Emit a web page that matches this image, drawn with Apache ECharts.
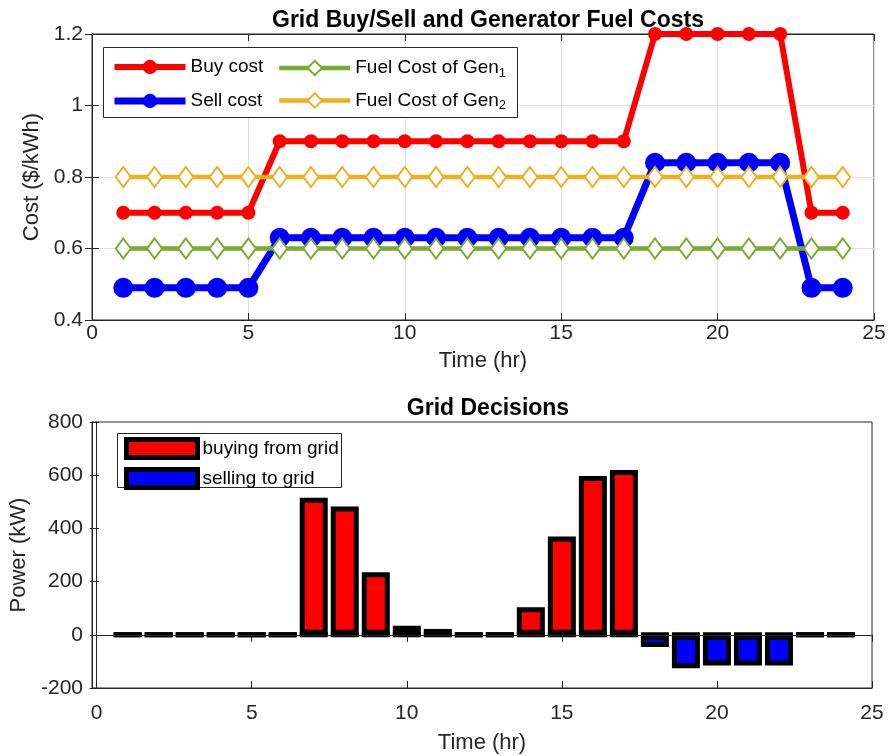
<!DOCTYPE html>
<html>
<head>
<meta charset="utf-8">
<script src="https://cdn.jsdelivr.net/npm/echarts@6/dist/echarts.min.js"></script>
<style>
  html, body { margin: 0; padding: 0; background: #ffffff; }
  #chart { width: 890px; height: 756px; }
</style>
</head>
<body>
<div id="chart"></div>
<script>
// Hourly time axis
const hours = [1, 2, 3, 4, 5, 6, 7, 8, 9, 10, 11, 12, 13, 14, 15, 16, 17, 18, 19, 20, 21, 22, 23, 24];

// Grid tariffs ($/kWh)
const buyCost  = [0.7, 0.7, 0.7, 0.7, 0.7, 0.9, 0.9, 0.9, 0.9, 0.9, 0.9, 0.9, 0.9, 0.9, 0.9, 0.9, 0.9, 1.2, 1.2, 1.2, 1.2, 1.2, 0.7, 0.7];
const sellCost = [0.49, 0.49, 0.49, 0.49, 0.49, 0.63, 0.63, 0.63, 0.63, 0.63, 0.63, 0.63, 0.63, 0.63, 0.63, 0.63, 0.63, 0.84, 0.84, 0.84, 0.84, 0.84, 0.49, 0.49];

// Generator fuel costs ($/kWh)
const fuelGen1 = [0.6, 0.6, 0.6, 0.6, 0.6, 0.6, 0.6, 0.6, 0.6, 0.6, 0.6, 0.6, 0.6, 0.6, 0.6, 0.6, 0.6, 0.6, 0.6, 0.6, 0.6, 0.6, 0.6, 0.6];
const fuelGen2 = [0.8, 0.8, 0.8, 0.8, 0.8, 0.8, 0.8, 0.8, 0.8, 0.8, 0.8, 0.8, 0.8, 0.8, 0.8, 0.8, 0.8, 0.8, 0.8, 0.8, 0.8, 0.8, 0.8, 0.8];

// Grid exchange (kW): positive = bought, negative = sold
const buyingFromGrid = [0, 0, 0, 0, 0, 0, 515, 482, 235, 34, 22, 0, 0, 104, 370, 597, 620, 0, 0, 0, 0, 0, 0, 0];
const sellingToGrid  = [0, 0, 0, 0, 0, 0, 0, 0, 0, 0, 0, 0, 0, 0, 0, 0, 0, -46, -126, -115, -115, -115, 0, 0];

// Tick labels
const timeTicks = [0, 5, 10, 15, 20, 25];

const FONT = "'Liberation Sans', Arial, Helvetica, sans-serif";
const AXIS_COLOR = '#262626';

const pairs = (vals) => hours.map((h, i) => [h, vals[i]]);

const chart = echarts.init(document.getElementById('chart'), null, { renderer: 'canvas' });

const tickLabel = { color: AXIS_COLOR, fontFamily: FONT, fontSize: 21 };
const axisName = { color: AXIS_COLOR, fontFamily: FONT, fontSize: 22 };

function mirrorAxis(base) {
  return Object.assign({
    axisLine: { show: true, lineStyle: { color: AXIS_COLOR, width: 1 } },
    axisTick: { show: true, inside: true, length: 7, lineStyle: { color: AXIS_COLOR } },
    axisLabel: { show: false },
    splitLine: { show: false }
  }, base);
}

const subRich = {
  sub: { fontSize: 13, fontFamily: FONT, color: '#000', padding: [10, 0, 0, 0] }
};

const option = {
  animation: false,
  backgroundColor: '#ffffff',
  title: [
    {
      text: 'Grid Buy/Sell and Generator Fuel Costs',
      left: 483, top: 4, textAlign: 'center',
      textStyle: { fontFamily: FONT, fontSize: 23, fontWeight: 'bold', color: '#000' }
    },
    {
      text: 'Grid Decisions',
      left: 483, top: 392, textAlign: 'center',
      textStyle: { fontFamily: FONT, fontSize: 23, fontWeight: 'bold', color: '#000' }
    }
  ],
  grid: [
    { left: 92, top: 34, width: 782, height: 286, show: true, borderColor: AXIS_COLOR, borderWidth: 1, backgroundColor: 'transparent' },
    { left: 92, top: 422, width: 780, height: 266, show: true, borderColor: AXIS_COLOR, borderWidth: 1, backgroundColor: 'transparent' }
  ],
  xAxis: [
    {
      type: 'value', gridIndex: 0, min: 0, max: 25, interval: 5,
      name: 'Time (hr)', nameLocation: 'middle', nameGap: 30, nameTextStyle: axisName,
      axisLine: { show: true, lineStyle: { color: AXIS_COLOR, width: 1 } },
      axisTick: { show: true, inside: true, length: 7, lineStyle: { color: AXIS_COLOR } },
      axisLabel: Object.assign({ margin: 3 }, tickLabel),
      splitLine: { show: true, lineStyle: { color: '#e1e1e1', width: 1 } }
    },
    mirrorAxis({ type: 'value', gridIndex: 0, position: 'top', min: 0, max: 25, interval: 5 }),
    {
      type: 'value', gridIndex: 1, min: -0.15, max: 25,
      name: 'Time (hr)', nameLocation: 'middle', nameGap: 44, nameTextStyle: axisName,
      axisLine: { show: true, onZero: false, lineStyle: { color: AXIS_COLOR, width: 1 } },
      axisTick: { show: true, inside: true, length: 7, customValues: timeTicks, lineStyle: { color: AXIS_COLOR } },
      axisLabel: Object.assign({ margin: 15, customValues: timeTicks }, tickLabel),
      splitLine: { show: false }
    },
    mirrorAxis({
      type: 'value', gridIndex: 1, position: 'top', min: -0.15, max: 25,
      axisTick: { show: true, inside: true, length: 7, customValues: timeTicks, lineStyle: { color: AXIS_COLOR } }
    })
  ],
  yAxis: [
    {
      type: 'value', gridIndex: 0, min: 0.4, max: 1.2, interval: 0.2,
      name: 'Cost ($/kWh)', nameLocation: 'middle', nameGap: 40, nameRotate: 90, nameTextStyle: axisName,
      axisLine: { show: true, lineStyle: { color: AXIS_COLOR, width: 1 } },
      axisTick: { show: true, inside: true, length: 7, lineStyle: { color: AXIS_COLOR } },
      axisLabel: Object.assign({ margin: 9 }, tickLabel),
      splitLine: { show: true, lineStyle: { color: '#e1e1e1', width: 1 } }
    },
    mirrorAxis({ type: 'value', gridIndex: 0, position: 'right', min: 0.4, max: 1.2, interval: 0.2 }),
    {
      type: 'value', gridIndex: 1, min: -200, max: 800, interval: 200,
      name: 'Power (kW)', nameLocation: 'middle', nameGap: 51, nameRotate: 90, nameTextStyle: axisName,
      axisLine: { show: true, onZero: false, lineStyle: { color: AXIS_COLOR, width: 1 } },
      axisTick: { show: true, inside: true, length: 7, lineStyle: { color: AXIS_COLOR } },
      axisLabel: Object.assign({ margin: 9 }, tickLabel),
      splitLine: { show: false }
    },
    mirrorAxis({ type: 'value', gridIndex: 1, position: 'right', min: -200, max: 800, interval: 200 })
  ],
  legend: [
    {
      data: [
        { name: 'Buy cost', lineStyle: { width: 6 } },
        { name: 'Sell cost', lineStyle: { width: 7 } }
      ],
      orient: 'vertical', left: 111, top: 57, padding: 0,
      itemWidth: 71, itemHeight: 18, itemGap: 14,
      textStyle: { fontFamily: FONT, fontSize: 19, color: '#000', lineHeight: 20 },
      selectedMode: false
    },
    {
      data: [
        { name: 'Fuel Cost of Gen1', lineStyle: { width: 4.5 }, itemStyle: { borderWidth: 3 } },
        { name: 'Fuel Cost of Gen2', lineStyle: { width: 4.5 }, itemStyle: { borderWidth: 3 } }
      ],
      orient: 'vertical', left: 277, top: 58, padding: 0,
      itemWidth: 71, itemHeight: 18, itemGap: 11,
      formatter: (name) => name.replace(/(\d)$/, '{sub|$1}'),
      textStyle: { fontFamily: FONT, fontSize: 19, color: '#000', lineHeight: 20, rich: subRich },
      selectedMode: false
    },
    {
      data: ['buying from grid', 'selling to grid'],
      orient: 'vertical', left: 124, top: 437, padding: 0,
      icon: 'rect',
      itemWidth: 71, itemHeight: 18, itemGap: 7,
      itemStyle: { borderColor: '#000000', borderWidth: 5 },
      textStyle: { fontFamily: FONT, fontSize: 19, color: '#000', lineHeight: 19 },
      selectedMode: false
    }
  ],
  graphic: [
    {
      type: 'rect', z: 3, silent: true,
      shape: { x: 103.5, y: 47.5, width: 414, height: 70 },
      style: { fill: '#ffffff', stroke: AXIS_COLOR, lineWidth: 1 }
    },
    {
      type: 'rect', z: 3, silent: true,
      shape: { x: 117.5, y: 433.5, width: 224, height: 54 },
      style: { fill: '#ffffff', stroke: AXIS_COLOR, lineWidth: 1 }
    }
  ],
  series: [
    {
      name: 'Buy cost', type: 'line', xAxisIndex: 0, yAxisIndex: 0,
      data: pairs(buyCost),
      symbol: 'circle', symbolSize: 14,
      lineStyle: { color: '#ff0000', width: 6 },
      itemStyle: { color: '#ff0000' }
    },
    {
      name: 'Sell cost', type: 'line', xAxisIndex: 0, yAxisIndex: 0,
      data: pairs(sellCost),
      symbol: 'circle', symbolSize: 20,
      lineStyle: { color: '#0000ff', width: 7 },
      itemStyle: { color: '#0000ff' }
    },
    {
      name: 'Fuel Cost of Gen1', type: 'line', xAxisIndex: 0, yAxisIndex: 0,
      data: pairs(fuelGen1),
      symbol: 'emptyDiamond', symbolSize: [15, 20],
      lineStyle: { color: '#77ac30', width: 4.5 },
      itemStyle: { color: '#77ac30', borderWidth: 3.5 }
    },
    {
      name: 'Fuel Cost of Gen2', type: 'line', xAxisIndex: 0, yAxisIndex: 0,
      data: pairs(fuelGen2),
      symbol: 'emptyDiamond', symbolSize: [15, 20],
      lineStyle: { color: '#edb120', width: 4.5 },
      itemStyle: { color: '#edb120', borderWidth: 3.5 }
    },
    {
      name: 'buying from grid', type: 'bar', xAxisIndex: 2, yAxisIndex: 2,
      data: pairs(buyingFromGrid),
      barWidth: 28, barGap: '-100%',
      itemStyle: { color: '#ff0000', borderColor: '#000000', borderWidth: 5 },
      markLine: {
        silent: true, symbol: 'none', label: { show: false },
        lineStyle: { color: AXIS_COLOR, width: 1, type: 'solid' },
        data: [{ yAxis: 0 }]
      }
    },
    {
      name: 'selling to grid', type: 'bar', xAxisIndex: 2, yAxisIndex: 2,
      data: pairs(sellingToGrid),
      barWidth: 28, barGap: '-100%',
      itemStyle: { color: '#0000ff', borderColor: '#000000', borderWidth: 5 }
    }
  ]
};

chart.setOption(option);
</script>
</body>
</html>
